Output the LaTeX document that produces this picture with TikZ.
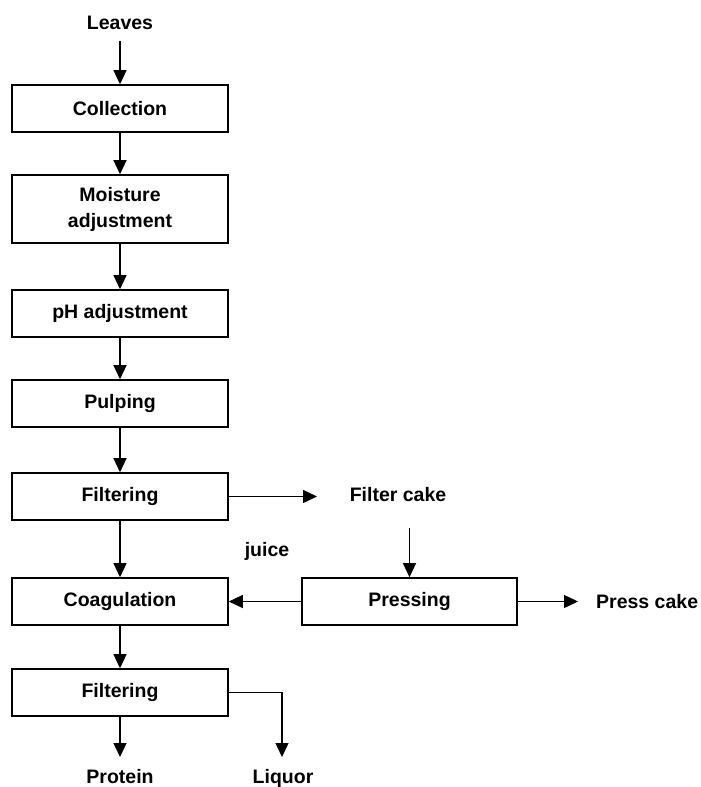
\documentclass[tikz,border=0pt]{standalone}
\usepackage{fontspec}
\setmainfont{Liberation Sans}
\usetikzlibrary{arrows.meta}
\begin{document}
\begin{tikzpicture}[x=1pt,y=-1pt,
  every node/.style={font=\fontsize{19.5}{22}\selectfont\bfseries},
  procbox/.style={draw,line width=1.6pt,minimum width=216pt,inner sep=0pt,align=center},
  lbl/.style={inner sep=0pt},
  arr/.style={line width=1.4pt,-{Triangle[length=14pt,width=13pt]}},
  ln/.style={line width=1.4pt}]
\useasboundingbox (0,0) rectangle (701,787);
\node[lbl] (leaves) at (120,23) {Leaves};
\node[procbox,minimum height=47pt] (coll) at (120,108.5) {Collection};
\node[procbox,minimum height=68pt,font=\fontsize{19.5}{26}\selectfont\bfseries] (moist) at (120,209) {Moisture\\adjustment};
\node[procbox,minimum height=47pt] (ph) at (120,313.5) {pH adjustment};
\node[procbox,minimum height=47pt] (pulp) at (120,403.5) {Pulping};
\node[procbox,minimum height=47pt] (filt1) at (120,496.5) {Filtering};
\node[procbox,minimum height=47pt] (coag) at (120,601.5) {Coagulation};
\node[procbox,minimum height=47pt] (filt2) at (120,692.5) {Filtering};
\node[procbox,minimum height=47pt,minimum width=215pt] (press) at (409.5,601.5) {Pressing};
\node[lbl] (fcake) at (398,495) {Filter cake};
\node[lbl] (juice) at (267,551) {juice};
\node[lbl,anchor=west] (pcake) at (596,602) {Press cake};
\node[lbl,anchor=base] (protein) at (120,783) {Protein};
\node[lbl,anchor=base] (liquor) at (283,783) {Liquor};
\coordinate (fcend) at (317,496.5);
\coordinate (pcend) at (578,601.5);
\coordinate (protend) at (120,757);
\coordinate (liqcorner) at (282,692.5);
\coordinate (liqend) at (282,757);
\draw[arr] (leaves.south |- 0,41) -- (coll.north);
\draw[arr] (coll.south) -- (moist.north);
\draw[arr] (moist.south) -- (ph.north);
\draw[arr] (ph.south) -- (pulp.north);
\draw[arr] (pulp.south) -- (filt1.north);
\draw[arr] (filt1.south) -- (coag.north);
\draw[arr] (coag.south) -- (filt2.north);
\draw[arr] (filt1.east) -- (fcend);
\draw[arr] (press.north |- 0,528) -- (press.north);
\draw[arr] (press.west) -- (coag.east);
\draw[arr] (press.east) -- (pcend);
\draw[arr] (filt2.south) -- (protend);
\draw[arr] (filt2.east) -- (liqcorner) -- (liqend);
\end{tikzpicture}
\end{document}
